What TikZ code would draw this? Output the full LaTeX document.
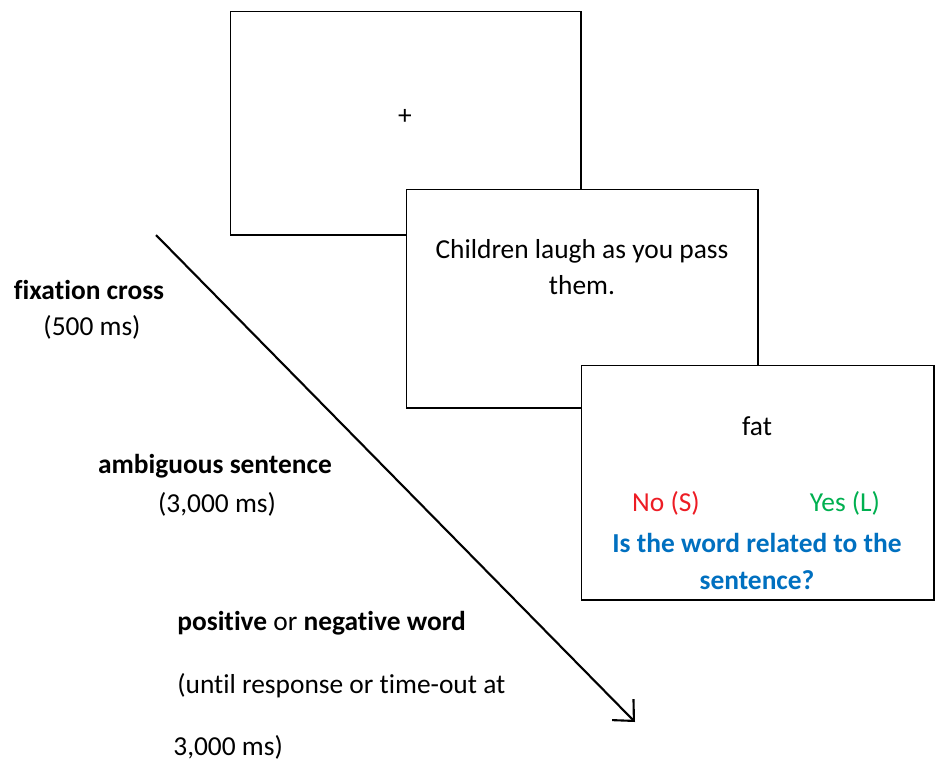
\documentclass[tikz,border=0pt]{standalone}
\usepackage{fontspec}
\setmainfont{Carlito}[Ligatures={NoCommon}]
\usetikzlibrary{arrows.meta}
\definecolor{noRed}{RGB}{237,28,36}
\definecolor{yesGreen}{RGB}{0,176,80}
\definecolor{askBlue}{RGB}{0,112,192}
\begin{document}
\begin{tikzpicture}[x=0.02cm, y=-0.02cm,
        screen/.style={rectangle, draw, fill=white, line width=0.6pt, inner sep=0pt},
        label/.style={font=\fontsize{15.6}{18}\selectfont, inner sep=0pt},
        timeline/.style={-{Straight Barb[length=9pt, width=17pt, line width=1.2pt]}, line width=1.2pt}
    ]
        \useasboundingbox (0,0) rectangle (936,762);

        % Screens
        \node[screen, minimum width=7.02cm, minimum height=4.48cm] (fix) at (405.5,123) {};
        \node[screen, minimum width=7.04cm, minimum height=4.38cm] (sent) at (582,298.5) {};
        \node[screen, minimum width=7.06cm, minimum height=4.70cm] (word) at (757.5,482.5) {};

        \node[label] (cross) at (405,117) {+};
        \node[label] (sent1) at (582,251) {Children laugh as you pass};
        \node[label] (sent2) at (582,285) {them.};
        \node[label] (target) at (757,426) {fat};
        \node[label, text=noRed] (no) at (666,503) {No (S)};
        \node[label, text=yesGreen] (yes) at (845,503) {Yes (L)};
        \node[label, text=askBlue, font=\fontsize{15.6}{18}\selectfont\bfseries] (ask1) at (757,543) {Is the word related to the};
        \node[label, text=askBlue, font=\fontsize{15.6}{18}\selectfont\bfseries] (ask2) at (757,580) {sentence?};

        % Time line
        \coordinate (tstart) at (156,235);
        \coordinate (tend) at (635,722);
        \draw[timeline] (tstart) -- (tend);

        % Phase labels
        \node[label] (fixname) at (89,290) {\textbf{fixation cross}};
        \node[label] (fixtime) at (92,327) {(500 ms)};
        \node[label] (sentname) at (215,466) {\textbf{ambiguous sentence}};
        \node[label] (senttime) at (217,504) {(3,000 ms)};
        \node[label, anchor=west] (wordname) at (177,623) {\textbf{positive} or \textbf{negative word}};
        \node[label, anchor=west] (wordtime1) at (177,686) {(until response or time-out at};
        \node[label, anchor=west] (wordtime2) at (173,747) {3,000 ms)};
    \end{tikzpicture}
\end{document}
